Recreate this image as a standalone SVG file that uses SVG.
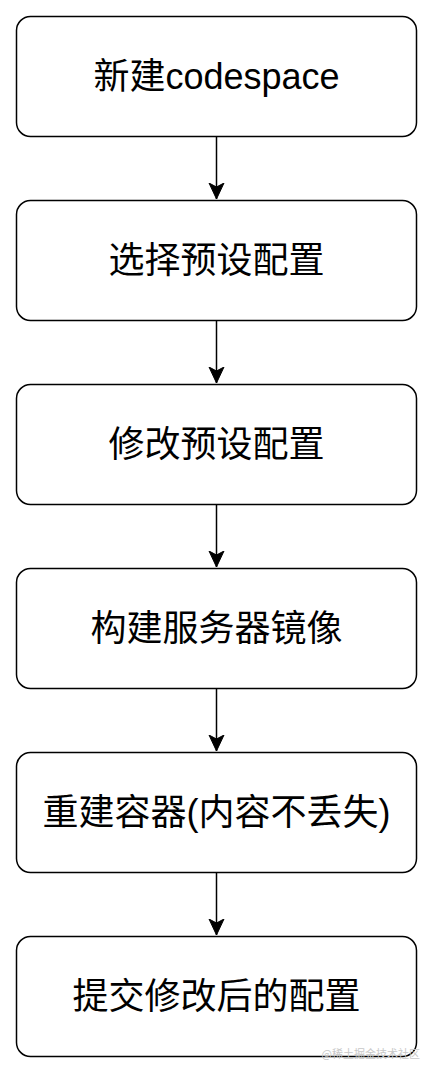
<svg xmlns="http://www.w3.org/2000/svg" width="434" height="1074" viewBox="0 0 434 1074">
<style>
.box{fill:#ffffff;stroke:#000000;stroke-width:1.5}
.lbl{font-family:"Liberation Sans","Noto Sans CJK SC",sans-serif;font-size:36px;fill:#000000;text-anchor:middle}
.edge{stroke:#000000;stroke-width:1.5;fill:none}
.wm{font-family:"Noto Sans CJK SC",sans-serif;font-size:11px;fill:#c8c8c8;text-anchor:end}
</style>
<defs>
<marker id="arr" markerUnits="userSpaceOnUse" markerWidth="18" markerHeight="18" refX="16" refY="8" orient="auto" viewBox="0 0 18 16">
<path d="M16,8 L0,0.5 L4,8 L0,15.5 Z" fill="#000000" stroke="#000000" stroke-width="1"/>
</marker>
</defs>
<rect width="434" height="1074" fill="#ffffff"/>
<g id="connectors">
<line class="edge" x1="216.5" y1="136.5" x2="216.5" y2="199" marker-end="url(#arr)"/>
<line class="edge" x1="216.5" y1="320.5" x2="216.5" y2="383" marker-end="url(#arr)"/>
<line class="edge" x1="216.5" y1="504.5" x2="216.5" y2="567" marker-end="url(#arr)"/>
<line class="edge" x1="216.5" y1="688.5" x2="216.5" y2="751" marker-end="url(#arr)"/>
<line class="edge" x1="216.5" y1="872.5" x2="216.5" y2="935" marker-end="url(#arr)"/>
</g>
<g id="n1"><rect class="box" x="16.5" y="16.5" width="400" height="120" rx="14"/><text class="lbl" x="216.5" y="89">新建codespace</text></g>
<g id="n2"><rect class="box" x="16.5" y="200.5" width="400" height="120" rx="14"/><text class="lbl" x="216.5" y="273">选择预设配置</text></g>
<g id="n3"><rect class="box" x="16.5" y="384.5" width="400" height="120" rx="14"/><text class="lbl" x="216.5" y="457">修改预设配置</text></g>
<g id="n4"><rect class="box" x="16.5" y="568.5" width="400" height="120" rx="14"/><text class="lbl" x="216.5" y="641">构建服务器镜像</text></g>
<g id="n5"><rect class="box" x="16.5" y="752.5" width="400" height="120" rx="14"/><text class="lbl" x="216.5" y="825">重建容器(内容不丢失)</text></g>
<g id="n6"><rect class="box" x="16.5" y="936.5" width="400" height="120" rx="14"/><text class="lbl" x="216.5" y="1009">提交修改后的配置</text></g>
<text class="wm" x="420" y="1058">@稀土掘金技术社区</text>
</svg>
